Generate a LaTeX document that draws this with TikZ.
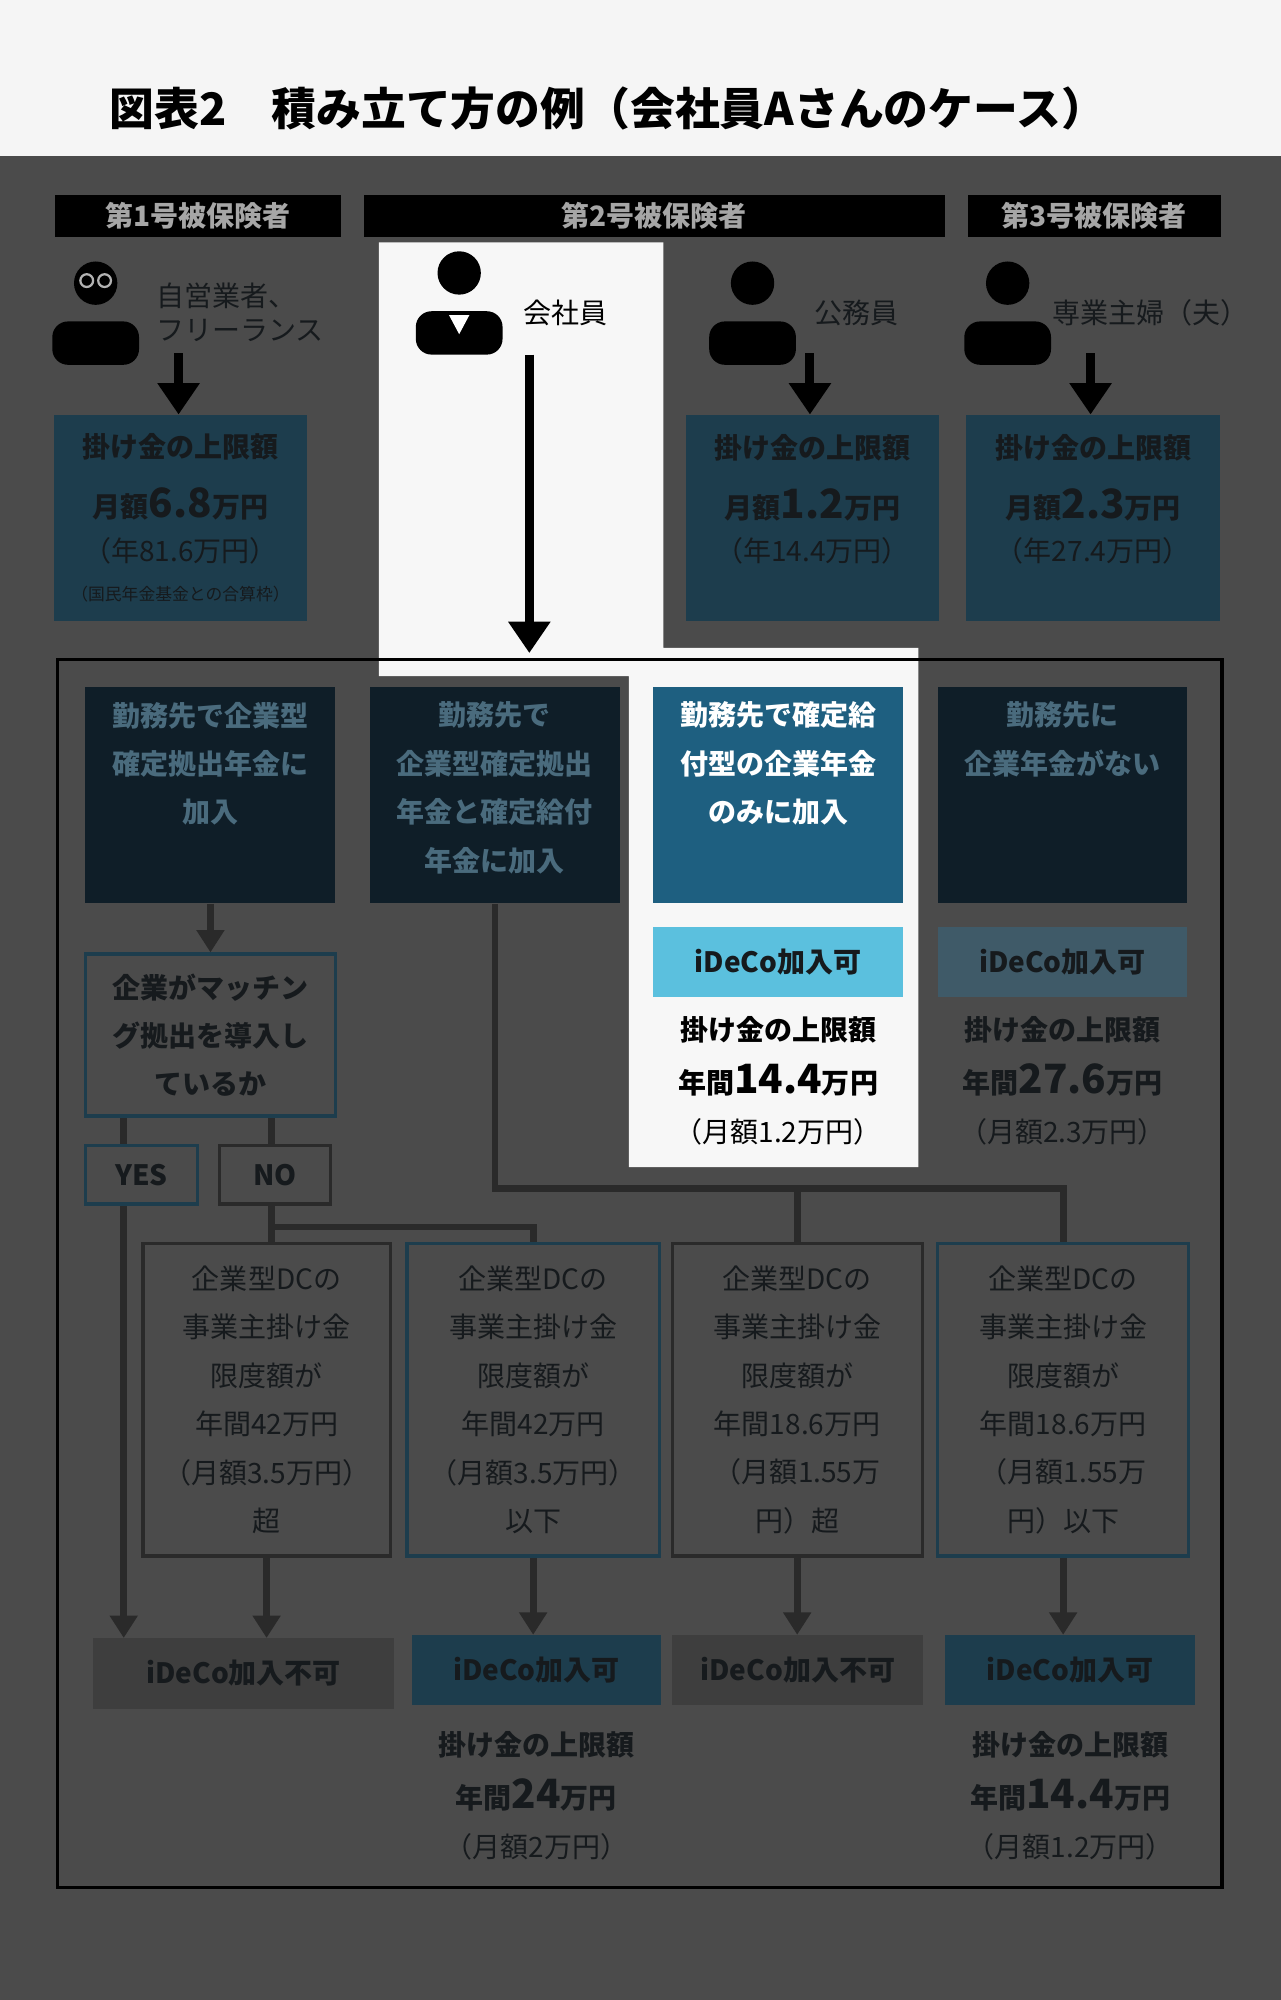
\documentclass[tikz,border=0pt]{standalone}
\usepackage{fontspec}
\setmainfont{Noto Sans CJK JP}
\usetikzlibrary{arrows.meta, positioning}
\definecolor{bgdark}{HTML}{4B4B4B}
\definecolor{dimteal}{HTML}{1D3D4D}
\definecolor{deepteal}{HTML}{0F1E28}
\definecolor{hiteal}{HTML}{1E5F80}
\definecolor{hiblue}{HTML}{5BC0DE}
\definecolor{dimtext}{HTML}{161A1D}
\definecolor{fadetext}{HTML}{4A6B7D}
\definecolor{linegray}{HTML}{2A2A2A}
\definecolor{ngfill}{HTML}{3E3E3E}
\newcommand{\bodysize}{\fontsize{12.5}{21.6}\selectfont}
\newcommand{\bignum}[1]{{\fontsize{18}{20}\selectfont #1}}
\pgfdeclarelayer{back}
\pgfdeclarelayer{lines}
\pgfsetlayers{back,lines,main}

\begin{document}
\begin{tikzpicture}[x=0.02cm,y=-0.02cm]
    \tikzstyle{txt}=[inner sep=0pt, text=dimtext, font=\bodysize]
    \tikzstyle{bar}=[fill=black, text=gray!70, font=\bodysize\bfseries, minimum height=0.66cm, inner sep=0pt]
    \tikzstyle{cap box}=[fill=dimteal, text=dimtext, align=center, inner sep=0pt, minimum width=3.98cm, minimum height=3.24cm, font=\bodysize]
    \tikzstyle{kind box}=[fill=deepteal, inner sep=0pt, minimum width=3.92cm, minimum height=3.4cm, anchor=north]
    \tikzstyle{kind text}=[text=fadetext, font=\fontsize{12.5}{21.6}\selectfont\bfseries, align=center, inner sep=0pt, anchor=north, yshift=-0.24cm]
    \tikzstyle{low box}=[draw=linegray, line width=1.5pt, text=dimtext, font=\bodysize, align=center, inner sep=0pt, minimum height=4.9cm]
    \tikzstyle{res box}=[text=dimtext, font=\bodysize\bfseries, inner sep=0pt, minimum height=1.1cm]
    \tikzstyle{flow}=[draw=linegray, line width=3pt]
    \tikzstyle{arr}=[flow, -{Triangle[length=10pt,width=12pt]}]
    \tikzstyle{bigarr}=[draw=black, line width=4pt, -{Triangle[length=14pt,width=18pt]}]

    % background
    \begin{pgfonlayer}{back}
    \fill[white!96!black] (0,0) rectangle (1004,122);
    \fill[bgdark] (0,122) rectangle (1004,1568);
    % highlighted column
    \fill[white!97!black] (297,190) -- (520,190) -- (520,508) -- (720,508) -- (720,915) -- (493,915) -- (493,530) -- (297,530) -- cycle;
    \draw[black, line width=1.5pt] (45,517) rectangle (958,1480);
    \end{pgfonlayer}
    \node[anchor=west, font=\fontsize{20}{24}\selectfont\bfseries] (title) at (80,85) {図表2　積み立て方の例（会社員Aさんのケース）};

    % insured groups
    \node[bar, minimum width=4.48cm] (g1) at (155,169.5) {第1号被保険者};
    \node[bar, minimum width=9.12cm] (g2) at (513,169.5) {第2号被保険者};
    \node[bar, minimum width=3.96cm] (g3) at (858,169.5) {第3号被保険者};

    % people
    \foreach \px/\py in {75/222, 360/214, 590/222, 790/222} {
        \fill[black] (\px,\py) circle (0.34cm);
        \fill[black, rounded corners=7pt] (\px-34,\py+64) rectangle (\px+34,\py+30);
    }
    \fill[white] (352,247) -- (368,247) -- (360,262) -- cycle;
    \draw[gray!60, line width=1pt] (68,220) circle (0.1cm) (82,220) circle (0.1cm);
    \node[txt, align=left, anchor=west, font=\fontsize{12.5}{15}\selectfont] (p1) at (122,245) {自営業者、\\フリーランス};
    \node[txt, anchor=west, text=black] (p2) at (410,245) {会社員};
    \node[txt, anchor=west] (p3) at (638,245) {公務員};
    \node[txt, anchor=west] (p4) at (825,245) {専業主婦（夫）};

    % caps for groups 1 and 3
    \node[cap box] (c1) at (141.5,406) {\bfseries 掛け金の上限額\\[5pt]\bfseries 月額\bignum{6.8}万円\\[-2pt]（年81.6万円）\\[-4pt]{\fontsize{7.5}{12}\selectfont（国民年金基金との合算枠）}};
    \node[cap box] (c3) at (637,406) {\bfseries 掛け金の上限額\\[5pt]\bfseries 月額\bignum{1.2}万円\\[-2pt]（年14.4万円）\\[-4pt]\mbox{}};
    \node[cap box] (c4) at (857,406) {\bfseries 掛け金の上限額\\[5pt]\bfseries 月額\bignum{2.3}万円\\[-2pt]（年27.4万円）\\[-4pt]\mbox{}};
    \draw[bigarr] (140,277) -- (140,325);
    \draw[bigarr] (635,277) -- (635,325);
    \draw[bigarr] (855,277) -- (855,325);

    % employee kinds
    \node[kind box] (k1) at (165,538) {};
    \node[kind text] (k1t) at (k1.north) {勤務先で企業型\\確定拠出年金に\\加入};
    \node[kind box] (k2) at (388,538) {};
    \node[kind text] (k2t) at (k2.north) {勤務先で\\企業型確定拠出\\年金と確定給付\\年金に加入};
    \node[kind box, fill=hiteal] (k3) at (610,538) {};
    \node[kind text, text=white] (k3t) at (k3.north) {勤務先で確定給\\付型の企業年金\\のみに加入};
    \node[kind box] (k4) at (833,538) {};
    \node[kind text] (k4t) at (k4.north) {勤務先に\\企業年金がない};
    \draw[bigarr] (415,278) -- (415,512);

    \node[res box, fill=hiblue, minimum width=3.92cm] (ok3) at (610,754) {iDeCo加入可};
    \node[res box, fill=dimteal!85!white, minimum width=3.92cm] (ok4) at (833,754) {iDeCo加入可};
    \node[txt, align=center, text=black, font=\bodysize\bfseries, below=0.3cm of ok3] (cap3) {掛け金の上限額\\[2pt]年間\bignum{14.4}万円\\ \normalfont（月額1.2万円）};
    \node[txt, align=center, font=\bodysize\bfseries, below=0.3cm of ok4] (cap4) {掛け金の上限額\\[2pt]年間\bignum{27.6}万円\\ \normalfont（月額2.3万円）};

    % matching question
    \node[draw=dimteal, line width=1.5pt, fill=bgdark, txt, font=\bodysize\bfseries, align=center, minimum width=3.92cm, minimum height=2.54cm] (match) at (165,811.5) {企業がマッチン\\グ拠出を導入し\\ているか};
    \draw[arr] (k1.south) -- (match.north);
    \node[draw=dimteal, line width=1.5pt, fill=bgdark, txt, font=\bodysize\bfseries, minimum width=1.76cm, minimum height=0.92cm] (yes) at (111,921) {YES};
    \node[draw=linegray, line width=1.5pt, fill=bgdark, txt, font=\bodysize\bfseries, minimum width=1.74cm, minimum height=0.92cm] (no) at (215.5,921) {NO};

    % limit boxes
    \node[low box, fill=bgdark, minimum width=3.88cm] (lA) at (209,1097.5) {企業型DCの\\事業主掛け金\\限度額が\\年間42万円\\（月額3.5万円）\\超};
    \node[low box, fill=bgdark, draw=dimteal, minimum width=3.96cm] (lB) at (418,1097.5) {企業型DCの\\事業主掛け金\\限度額が\\年間42万円\\（月額3.5万円）\\以下};
    \node[low box, fill=bgdark, minimum width=3.92cm] (lC) at (625,1097.5) {企業型DCの\\事業主掛け金\\限度額が\\年間18.6万円\\（月額1.55万\\円）超};
    \node[low box, fill=bgdark, draw=dimteal, minimum width=3.94cm] (lD) at (833.5,1097.5) {企業型DCの\\事業主掛け金\\限度額が\\年間18.6万円\\（月額1.55万\\円）以下};

    % results
    \node[res box, fill=ngfill, minimum width=4.72cm] (rA) at (191,1312) {iDeCo加入不可};
    \node[res box, fill=dimteal, minimum width=3.9cm] (rB) at (420.5,1309.5) {iDeCo加入可};
    \node[res box, fill=ngfill, minimum width=3.94cm] (rC) at (625.5,1309.5) {iDeCo加入不可};
    \node[res box, fill=dimteal, minimum width=3.92cm] (rD) at (839,1309.5) {iDeCo加入可};
    \node[txt, align=center, font=\bodysize\bfseries, below=0.4cm of rB] (capB) {掛け金の上限額\\[2pt]年間\bignum{24}万円\\ \normalfont（月額2万円）};
    \node[txt, align=center, font=\bodysize\bfseries, below=0.4cm of rD] (capD) {掛け金の上限額\\[2pt]年間\bignum{14.4}万円\\ \normalfont（月額1.2万円）};

    % connectors
    \coordinate (nsplit) at (213,962);
    \coordinate (hbar) at (388,932);
    \coordinate (ysrc) at (97,875);
    \coordinate (nsrc) at (213,875);
    \begin{pgfonlayer}{lines}
    \draw[arr] (ysrc) -- (ysrc |- rA.north);
    \draw[flow] (nsrc) -- (nsplit |- lA.north);
    \draw[flow] (nsplit) -| (lB.north);
    \draw[flow] (k2.south) -- (hbar) -| (lD.north);
    \draw[flow] (hbar -| lC.north) -- (lC.north);
    \end{pgfonlayer}
    \draw[arr] (lA.south) -- (lA.south |- rA.north);
    \draw[arr] (lB.south) -- (lB.south |- rB.north);
    \draw[arr] (lC.south) -- (lC.south |- rC.north);
    \draw[arr] (lD.south) -- (lD.south |- rD.north);
\end{tikzpicture}
\end{document}
